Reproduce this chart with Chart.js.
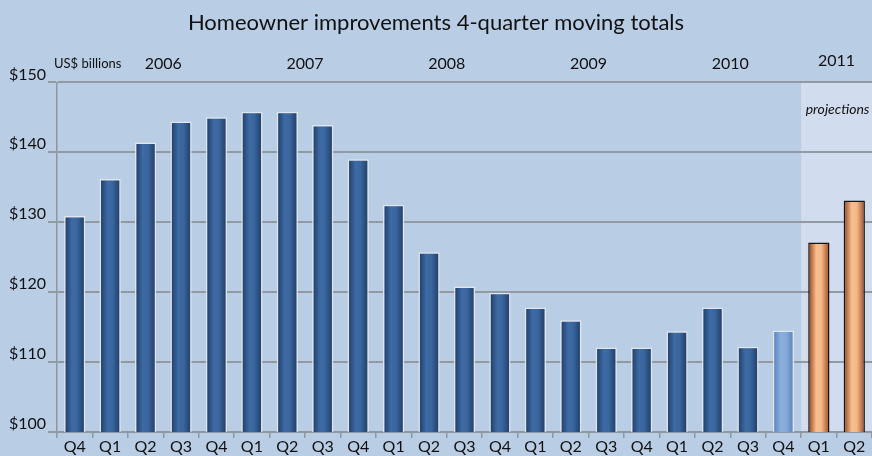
<!DOCTYPE html>
<html>
<head>
<meta charset="utf-8">
<script src="https://cdn.jsdelivr.net/npm/chart.js@4.4.1/dist/chart.umd.min.js"></script>
<style>
  body { margin: 0; background: #b9cde5; }
  #caixa { width: 872px; height: 456px; }
</style>
</head>
<body>
<div id="caixa"><canvas id="grafico"></canvas></div>
<script>
// quarters from Q4 2005 through Q2 2011
const quarters = ['Q4', 'Q1', 'Q2', 'Q3', 'Q4', 'Q1', 'Q2', 'Q3', 'Q4', 'Q1', 'Q2', 'Q3',
  'Q4', 'Q1', 'Q2', 'Q3', 'Q4', 'Q1', 'Q2', 'Q3', 'Q4', 'Q1', 'Q2'];
const years = ['2006', '2007', '2008', '2009', '2010', '2011'];
const totals = [130.9, 136.2, 141.4, 144.4, 145.0, 145.8, 145.8, 143.9, 139.0, 132.5, 125.7, 120.8,
  119.9, 117.8, 116.0, 112.1, 112.1, 114.4, 117.8, 112.2, 114.5, 127.1, 133.1];
// actual / estimate / projection
const kinds = ['actual', 'actual', 'actual', 'actual', 'actual', 'actual', 'actual', 'actual',
  'actual', 'actual', 'actual', 'actual', 'actual', 'actual', 'actual', 'actual', 'actual',
  'actual', 'actual', 'actual', 'estimate', 'projection', 'projection'];
const yTicks = [100, 110, 120, 130, 140, 150];

const FONTE = 'Lato, "Open Sans", sans-serif';
const LARGURA_BARRA = 0.6;

const cores = {
  actual: ['#1c3960', '#3f6ba5', '#3a659d', '#1d3a62'],
  estimate: ['#4f7db8', '#8db0dd', '#86aad8', '#5380bb'],
  projection: ['#8c3f1b', '#f8be8f', '#f5b887', '#9a4a23']
};

function preenchimento(context) {
  const chart = context.chart;
  const x = chart.scales.x;
  const i = context.dataIndex;
  const c = cores[kinds[i]] || cores.actual;
  if (!x || i === undefined || !chart.chartArea) return c[1];
  const meio = x.getPixelForValue(i);
  const meia = x.width / quarters.length * LARGURA_BARRA / 2;
  const g = chart.ctx.createLinearGradient(meio - meia, 0, meio + meia, 0);
  g.addColorStop(0, c[0]);
  g.addColorStop(0.38, c[1]);
  g.addColorStop(0.62, c[2]);
  g.addColorStop(1, c[3]);
  return g;
}

const enfeites = {
  id: 'enfeites',
  beforeDraw(chart) {
    const { ctx, chartArea, scales: { x } } = chart;
    ctx.save();
    ctx.fillStyle = '#b9cde5';
    ctx.fillRect(0, 0, chart.width, chart.height);
    const primeira = kinds.indexOf('projection');
    const passo = x.width / quarters.length;
    const esquerda = x.getPixelForValue(primeira) - passo / 2;
    ctx.fillStyle = '#d1ddee';
    ctx.fillRect(esquerda, chartArea.top, chartArea.right - esquerda, chartArea.bottom - chartArea.top);
    ctx.restore();
  },
  afterDraw(chart) {
    const { ctx, chartArea, scales: { x } } = chart;
    ctx.save();
    ctx.fillStyle = '#111';
    ctx.textBaseline = 'middle';

    // year labels centred over their quarters
    const inicios = [];
    quarters.forEach((q, i) => { if (q === 'Q1') inicios.push(i); });
    ctx.font = '16px ' + FONTE;
    ctx.textAlign = 'center';
    inicios.forEach((ini, k) => {
      const fim = k + 1 < inicios.length ? inicios[k + 1] - 1 : quarters.length - 1;
      const meio = (x.getPixelForValue(ini) + x.getPixelForValue(fim)) / 2;
      ctx.fillText(years[k], meio, chartArea.top - (k === inicios.length - 1 ? 22 : 19));
    });

    ctx.font = '13px ' + FONTE;
    ctx.textAlign = 'left';
    ctx.fillText('US$ billions', chartArea.left - 3, chartArea.top - 19);

    const primeira = kinds.indexOf('projection');
    const passo = x.width / quarters.length;
    const esquerda = x.getPixelForValue(primeira) - passo / 2;
    ctx.font = 'italic 14px ' + FONTE;
    ctx.textAlign = 'center';
    ctx.fillText('projections', (esquerda + chartArea.right) / 2 + 1, chartArea.top + 27);
    ctx.restore();
  }
};

const grafico = new Chart(document.getElementById('grafico'), {
  type: 'bar',
  data: {
    labels: quarters,
    datasets: [{
      label: 'Homeowner improvements',
      data: totals,
      backgroundColor: preenchimento,
      borderColor: ctx => kinds[ctx.dataIndex] === 'projection' ? '#151515' : '#e2e6ec',
      borderWidth: 1.5,
      borderSkipped: false,
      barPercentage: LARGURA_BARRA,
      categoryPercentage: 1
    }]
  },
  options: {
    responsive: true,
    maintainAspectRatio: false,
    animation: false,
    layout: { padding: 0 },
    plugins: {
      legend: { display: false },
      tooltip: { enabled: false },
      title: {
        display: true,
        text: 'Homeowner improvements 4-quarter moving totals',
        color: '#111',
        font: { family: FONTE, size: 22, weight: 'normal' },
        padding: { top: 10, bottom: 46 }
      }
    },
    scales: {
      x: {
        offset: true,
        grid: { offset: true, drawOnChartArea: false, drawTicks: true, tickLength: 6, color: '#8f969f', lineWidth: 1.5 },
        border: { display: true, color: '#8f969f', width: 1.5 },
        ticks: { color: '#111', font: { family: FONTE, size: 16 }, padding: -1, maxRotation: 0, autoSkip: false },
        afterFit: s => { s.height = 24; }
      },
      y: {
        min: 100,
        max: 150,
        afterBuildTicks: s => { s.ticks = yTicks.map(v => ({ value: v })); },
        grid: { color: '#9199a3', lineWidth: 2, tickLength: 9 },
        border: { display: true, color: '#8f969f', width: 1.5 },
        ticks: {
          color: '#111',
          align: 'end',
          padding: 2,
          font: { family: FONTE, size: 16 },
          callback: v => '$' + v
        },
        afterFit: s => { s.width = 57; }
      }
    }
  },
  plugins: [enfeites]
});
</script>
</body>
</html>
